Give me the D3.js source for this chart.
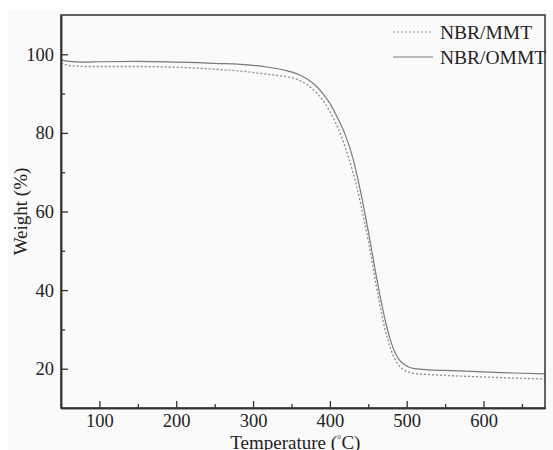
<!DOCTYPE html>
<html lang="en">
  <head>
    <meta charset="utf-8">
    <script src="https://cdn.jsdelivr.net/npm/d3@7"></script>
    <style>
      body{
        margin:0;
        background:#ffffff;
      }
      svg text{
        font-family:"Liberation Serif","Times New Roman",serif;
        fill:#222;
      }
    </style>
  </head>
  <body>
    <svg></svg>
  </body>
  <script>
    // temperature (C) and weight (%)
    var tempMMT = [50,60,80,100,150,200,250,300,320,340,350,360,370,380,390,400,410,420,430,440,450,460,470,480,490,500,510,530,560,600,640,680];
    var weightMMT = [97.8,97.2,96.9,96.9,96.9,96.7,96.2,95.4,94.9,94.4,94.1,93.4,92.3,90.7,88.5,85.4,81.5,76.3,70.0,62.0,52.5,41.5,31.5,24.5,20.8,19.3,18.8,18.5,18.2,17.9,17.6,17.4];

    var tempOMMT = [50,60,80,100,150,200,250,300,320,340,360,370,380,390,400,410,420,430,440,450,460,470,480,490,500,510,530,560,600,640,680];
    var weightOMMT = [98.6,98.2,98.0,98.1,98.2,98.0,97.7,97.2,96.7,96.0,94.8,93.8,92.3,90.2,87.5,83.8,79.5,73.5,65.0,55.0,44.0,34.0,26.5,22.3,20.7,20.0,19.7,19.5,19.2,18.9,18.7];

    var seriesNames = ['NBR/MMT','NBR/OMMT'];
    var xTicks = [100,200,300,400,500,600];
    var xMinor = [150,250,350,450,550,650];
    var yTicks = [20,40,60,80,100];
    var yMinor = [30,50,70,90];

    var svgwidth = 553;
    var svgheight = 450;
    var margins = {top:15, bottom:42, left:61, right:8};
    var width = svgwidth - margins.left - margins.right;
    var height = svgheight - margins.top - margins.bottom;
    var serif = '"Liberation Serif","Times New Roman",serif';

    var svg = d3.select('svg')
                .attr('width',svgwidth)
                .attr('height',svgheight);

    svg.append('rect')
       .attr('x',8).attr('y',10)
       .attr('width',svgwidth-8).attr('height',svgheight-10)
       .attr('fill','#fafafa');

    var xScale = d3.scaleLinear().domain([50,680]).range([0,width]);
    var yScale = d3.scaleLinear().domain([10,110]).range([height,0]);

    var plot = svg.append('g')
                  .attr('transform','translate('+margins.left+','+margins.top+')');

    var toPoints = function(ts,ws){
      return ts.map(function(t,i){ return [t,ws[i]]; });
    };

    var line = d3.line()
                 .x(function(d){ return xScale(d[0]); })
                 .y(function(d){ return yScale(d[1]); })
                 .curve(d3.curveMonotoneX);

    plot.append('path')
        .datum(toPoints(tempMMT,weightMMT))
        .attr('d',line)
        .attr('fill','none')
        .attr('stroke','#8a8a8a')
        .attr('stroke-width',1.3)
        .attr('stroke-dasharray','2,2');

    plot.append('path')
        .datum(toPoints(tempOMMT,weightOMMT))
        .attr('d',line)
        .attr('fill','none')
        .attr('stroke','#7a7a7a')
        .attr('stroke-width',1.2);

    // frame
    plot.append('rect')
        .attr('width',width).attr('height',height)
        .attr('fill','none')
        .attr('stroke','#333')
        .attr('stroke-width',1.5);

    // axes with inward ticks
    var xAxis = plot.append('g')
                    .attr('transform','translate(0,'+height+')')
                    .call(d3.axisBottom(xScale).tickValues(xTicks).tickSizeInner(-7).tickSizeOuter(0).tickPadding(6));
    xAxis.append('g')
         .call(d3.axisBottom(xScale).tickValues(xMinor).tickSizeInner(-4).tickSizeOuter(0).tickFormat(''));

    var yAxis = plot.append('g')
                    .call(d3.axisLeft(yScale).tickValues(yTicks).tickSizeInner(-7).tickSizeOuter(0).tickPadding(7));
    yAxis.append('g')
         .call(d3.axisLeft(yScale).tickValues(yMinor).tickSizeInner(-4).tickSizeOuter(0).tickFormat(''));

    xAxis.attr('font-family',serif).attr('font-size',18.5);
    yAxis.attr('font-family',serif).attr('font-size',18.5);
    plot.selectAll('.domain').attr('stroke','#333').attr('stroke-width',1.5);
    plot.selectAll('.tick line').attr('stroke','#333').attr('stroke-width',1.3);
    plot.selectAll('.tick text').attr('fill','#222');

    // axis titles
    svg.append('text')
       .attr('transform','translate(27,'+(margins.top+yScale(60))+') rotate(-90)')
       .attr('text-anchor','middle')
       .style('font-size','19px')
       .text('Weight (%)');

    var xTitle = svg.append('text')
       .attr('x',margins.left+xScale(355))
       .attr('y',449)
       .attr('text-anchor','middle')
       .style('font-size','19px');
    xTitle.append('tspan').text('Temperature (');
    xTitle.append('tspan').attr('dy',-6).style('font-size','11px').text('°');
    xTitle.append('tspan').attr('dy',6).text('C)');

    // legend
    var legend = svg.append('g').attr('transform','translate(393,0)');
    var legendY = [32,57];
    legend.selectAll('line')
          .data(seriesNames)
          .enter()
          .append('line')
          .attr('x1',0).attr('x2',40)
          .attr('y1',function(d,i){ return legendY[i]; })
          .attr('y2',function(d,i){ return legendY[i]; })
          .attr('stroke',function(d,i){ return i==0 ? '#8a8a8a' : '#7a7a7a'; })
          .attr('stroke-width',1.2)
          .attr('stroke-dasharray',function(d,i){ return i==0 ? '2,2' : null; });
    legend.selectAll('text')
          .data(seriesNames)
          .enter()
          .append('text')
          .attr('x',47)
          .attr('y',function(d,i){ return legendY[i]+7; })
          .style('font-size','19.5px')
          .text(function(d){ return d; });
  </script>
</html>
